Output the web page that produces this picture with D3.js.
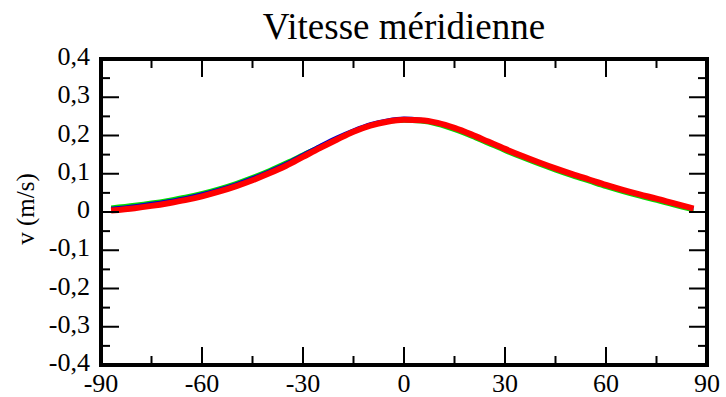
<!DOCTYPE html>
<html lang="fr">
	<head>
		<meta charset="utf-8">
		<title>Vitesse méridienne</title>
		<script type="text/javascript" src="https://cdn.jsdelivr.net/npm/d3@7"></script>
		<style type="text/css">
			body { margin: 0; background: #fff; }
		</style>
	</head>
	<body>
		<script type="text/javascript">

			//Data
			var latitudes = [-87, -80, -75, -70, -65, -60, -55, -50, -45, -40, -35, -30, -25, -20, -15, -10, -5, 0,
							 5, 10, 15, 20, 25, 30, 35, 40, 45, 50, 55, 60, 65, 70, 75, 80, 86];
			var vGreen = [0.013, 0.020, 0.026, 0.033, 0.041, 0.051, 0.063, 0.077, 0.093, 0.111, 0.131, 0.152, 0.173, 0.193, 0.211, 0.225, 0.234, 0.237,
						  0.235, 0.227, 0.213, 0.196, 0.177, 0.158, 0.140, 0.123, 0.107, 0.092, 0.078, 0.064, 0.051, 0.039, 0.028, 0.016, 0.003];
			var vBlue = [0.009, 0.016, 0.022, 0.029, 0.037, 0.047, 0.059, 0.073, 0.089, 0.107, 0.127, 0.150, 0.173, 0.195, 0.214, 0.230, 0.240, 0.245,
						 0.242, 0.234, 0.220, 0.203, 0.184, 0.164, 0.146, 0.129, 0.113, 0.098, 0.084, 0.070, 0.057, 0.045, 0.034, 0.022, 0.009];
			var vRed = [0.004, 0.010, 0.016, 0.023, 0.031, 0.041, 0.053, 0.067, 0.083, 0.101, 0.121, 0.144, 0.167, 0.189, 0.210, 0.226, 0.236, 0.241,
						0.240, 0.233, 0.220, 0.203, 0.184, 0.165, 0.147, 0.130, 0.114, 0.099, 0.085, 0.071, 0.058, 0.046, 0.035, 0.023, 0.009];
			var xTicks = [-90, -60, -30, 0, 30, 60, 90];
			var xMinor = [-75, -45, -15, 15, 45, 75];
			var yTicks = [0.4, 0.3, 0.2, 0.1, 0, -0.1, -0.2, -0.3, -0.4];
			var yMinor = [0.35, 0.25, 0.15, 0.05, -0.05, -0.15, -0.25, -0.35];
			var yLabels = ["0,4", "0,3", "0,2", "0,1", "0", "-0,1", "-0,2", "-0,3", "-0,4"];

			//Width and height
			var w = 726;
			var h = 397;
			var pLeft = 101, pRight = 707, pTop = 59, pBottom = 365;
			var serif = "'Liberation Serif', 'Times New Roman', Times, serif";

			var svg = d3.select("body")
						.append("svg")
						.attr("width", w)
						.attr("height", h)
						.attr("font-family", serif);

			//Scales
			var x = d3.scaleLinear().domain([-90, 90]).range([pLeft, pRight]);
			var y = d3.scaleLinear().domain([-0.4, 0.4]).range([pBottom, pTop]);

			//Curves, red drawn last (on top)
			var series = [
				{ values: vGreen, color: "#00dd00", width: 3 },
				{ values: vBlue, color: "#0000cc", width: 3.5 },
				{ values: vRed, color: "#ff0000", width: 6 }
			];

			var line = d3.line()
						 .curve(d3.curveMonotoneX);

			series.forEach(function(s) {
				svg.append("path")
				   .attr("d", line(latitudes.map(function(lat, i) { return [x(lat), y(s.values[i])]; })))
				   .attr("fill", "none")
				   .attr("stroke", s.color)
				   .attr("stroke-width", s.width);
			});

			//Ticks on all four sides, pointing inwards
			var ticks = svg.append("g").attr("stroke", "#000").attr("stroke-width", 2);

			function vTick(xv, len) {
				ticks.append("line").attr("x1", x(xv)).attr("x2", x(xv)).attr("y1", pBottom).attr("y2", pBottom - len);
				ticks.append("line").attr("x1", x(xv)).attr("x2", x(xv)).attr("y1", pTop).attr("y2", pTop + len);
			}
			function hTick(yv, len) {
				ticks.append("line").attr("y1", y(yv)).attr("y2", y(yv)).attr("x1", pLeft).attr("x2", pLeft + len);
				ticks.append("line").attr("y1", y(yv)).attr("y2", y(yv)).attr("x1", pRight).attr("x2", pRight - len);
			}
			xTicks.forEach(function(d) { vTick(d, 18); });
			xMinor.forEach(function(d) { vTick(d, 9); });
			yTicks.forEach(function(d) { hTick(d, 18); });
			yMinor.forEach(function(d) { hTick(d, 9); });

			//Frame
			svg.append("rect")
			   .attr("x", pLeft)
			   .attr("y", pTop)
			   .attr("width", pRight - pLeft)
			   .attr("height", pBottom - pTop)
			   .attr("fill", "none")
			   .attr("stroke", "#000")
			   .attr("stroke-width", 4);

			//Tick labels
			svg.selectAll(".xlab")
			   .data(xTicks)
			   .enter()
			   .append("text")
			   .attr("class", "xlab")
			   .attr("x", function(d) { return x(d); })
			   .attr("y", pBottom + 27)
			   .attr("text-anchor", "middle")
			   .attr("font-size", 26)
			   .text(function(d) { return d; });

			svg.selectAll(".ylab")
			   .data(yTicks)
			   .enter()
			   .append("text")
			   .attr("class", "ylab")
			   .attr("x", pLeft - 11)
			   .attr("y", function(d) { return y(d) + 6; })
			   .attr("text-anchor", "end")
			   .attr("font-size", 26)
			   .text(function(d, i) { return yLabels[i]; });

			//Title and axis label
			svg.append("text")
			   .attr("x", (pLeft + pRight) / 2)
			   .attr("y", 39)
			   .attr("text-anchor", "middle")
			   .attr("font-size", 37)
			   .text("Vitesse méridienne");

			svg.append("text")
			   .attr("transform", "translate(34,209) rotate(-90)")
			   .attr("text-anchor", "middle")
			   .attr("font-size", 25)
			   .text("v (m/s)");

		</script>
	</body>
</html>
